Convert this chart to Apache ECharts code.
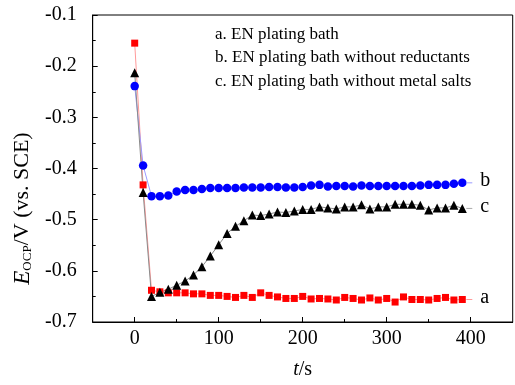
<!DOCTYPE html>
<html>
<head>
<meta charset="utf-8">
<script src="https://cdn.jsdelivr.net/npm/echarts@6/dist/echarts.min.js"></script>
<style>html,body{margin:0;padding:0;background:#fff}#c{width:515px;height:385px}</style>
</head>
<body>
<div id="c"></div>
<script>
// Time (s)
var times = [0,10,20,30,40,50,60,70,80,90,100,110,120,130,140,150,160,170,180,190,200,210,220,230,240,250,260,270,280,290,300,310,320,330,340,350,360,370,380,390];
// a. EN plating bath
var seriesA = [-0.155,-0.432,-0.638,-0.641,-0.643,-0.643,-0.643,-0.645,-0.645,-0.648,-0.648,-0.650,-0.652,-0.648,-0.652,-0.643,-0.648,-0.651,-0.654,-0.654,-0.650,-0.655,-0.654,-0.655,-0.657,-0.652,-0.654,-0.657,-0.653,-0.657,-0.654,-0.661,-0.651,-0.656,-0.656,-0.657,-0.654,-0.652,-0.657,-0.656];
// b. EN plating bath without reductants
var seriesB = [-0.239,-0.394,-0.454,-0.454,-0.453,-0.445,-0.442,-0.442,-0.440,-0.438,-0.438,-0.438,-0.438,-0.437,-0.437,-0.437,-0.436,-0.436,-0.437,-0.437,-0.436,-0.433,-0.432,-0.435,-0.434,-0.434,-0.435,-0.433,-0.434,-0.434,-0.434,-0.434,-0.434,-0.434,-0.433,-0.432,-0.432,-0.432,-0.430,-0.428];
// c. EN plating bath without metal salts
var seriesC = [-0.213,-0.447,-0.650,-0.642,-0.636,-0.628,-0.620,-0.608,-0.592,-0.571,-0.549,-0.527,-0.513,-0.502,-0.491,-0.492,-0.489,-0.485,-0.486,-0.483,-0.480,-0.480,-0.475,-0.477,-0.479,-0.475,-0.475,-0.471,-0.479,-0.475,-0.475,-0.470,-0.470,-0.470,-0.472,-0.481,-0.477,-0.477,-0.472,-0.478];
var names = ['a. EN plating bath','b. EN plating bath without reductants','c. EN plating bath without metal salts'];
var endNames = ['a','b','c'];
var xMajor = [0,100,200,300,400];
var xMinor = [50,150,250,350];

var FF = "'Liberation Serif','Times New Roman',serif";
function pairs(v){ return times.map(function(t,i){ return [t, v[i]]; }); }
function endLabel(txt, lineColor){
  return {show:true, distance:4, formatter:'{l|}{t|'+txt+'}',
    rich:{l:{width:6,height:1,backgroundColor:lineColor}, t:{fontFamily:FF,fontSize:20,color:'#000',padding:[0,0,4,8]}}};
}
var chart = echarts.init(document.getElementById('c'));
chart.setOption({
  animation:false,
  grid:{left:92.7, top:15, right:2.3, bottom:56.7, show:true, borderColor:'#000', borderWidth:1, containLabel:false},
  legend:{show:true, orient:'vertical', left:205, top:21, icon:'none', itemWidth:0, itemHeight:17, itemGap:6.5,
    textStyle:{fontFamily:FF, fontSize:17, color:'#000'}, selectedMode:false, data:names},
  xAxis:[{
    type:'value', min:-50, max:450,
    name:'{i|t}/s', nameLocation:'middle', nameGap:38,
    nameTextStyle:{fontFamily:FF, fontSize:20, color:'#000', rich:{i:{fontStyle:'italic', fontFamily:FF, fontSize:20}}},
    axisLine:{show:true, onZero:false, lineStyle:{color:'#000', width:1}},
    axisTick:{show:true, inside:true, length:5, customValues:xMajor, lineStyle:{color:'#000'}},
    axisLabel:{show:true, customValues:xMajor, fontFamily:FF, fontSize:20, color:'#000', margin:7},
    splitLine:{show:false}
  },{
    type:'value', min:-50, max:450, position:'bottom',
    axisLine:{show:false}, axisLabel:{show:false}, splitLine:{show:false},
    axisTick:{show:true, inside:true, length:3, customValues:xMinor, lineStyle:{color:'#000'}}
  }],
  yAxis:{
    type:'value', min:-0.7, max:-0.1, interval:0.1,
    name:'{i|E}{s|OCP}/V (vs. SCE)', nameLocation:'middle', nameGap:57,
    nameTextStyle:{fontFamily:FF, fontSize:22, color:'#000', padding:[0,80,0,0],
      rich:{i:{fontStyle:'italic', fontFamily:FF, fontSize:23}, s:{fontFamily:FF, fontSize:13, verticalAlign:'bottom', padding:[7,0,0,0]}}},
    axisLine:{show:true, onZero:false, lineStyle:{color:'#000', width:1}},
    axisTick:{show:true, inside:true, length:5, lineStyle:{color:'#000'}},
    minorTick:{show:true, splitNumber:2, length:3, lineStyle:{color:'#000'}},
    axisLabel:{fontFamily:FF, fontSize:20, color:'#000', margin:16, formatter:function(v){return v.toFixed(1);}},
    splitLine:{show:false}
  },
  series:[
    {name:names[0], type:'line', data:pairs(seriesA), symbol:'rect', symbolSize:7,
      itemStyle:{color:'#ff0000'}, lineStyle:{color:'#ff9a9a', width:1}, endLabel:endLabel(endNames[0],'#ff9a9a')},
    {name:names[1], type:'line', data:pairs(seriesB), symbol:'circle', symbolSize:8.5,
      itemStyle:{color:'#0000ff'}, lineStyle:{color:'#9a9aff', width:1}, endLabel:endLabel(endNames[1],'#9a9aff')},
    {name:names[2], type:'line', data:pairs(seriesC), symbol:'triangle', symbolSize:9,
      itemStyle:{color:'#000000'}, lineStyle:{color:'#8a8a8a', width:1}, endLabel:endLabel(endNames[2],'#aaaaaa')}
  ]
});
</script>
</body>
</html>
